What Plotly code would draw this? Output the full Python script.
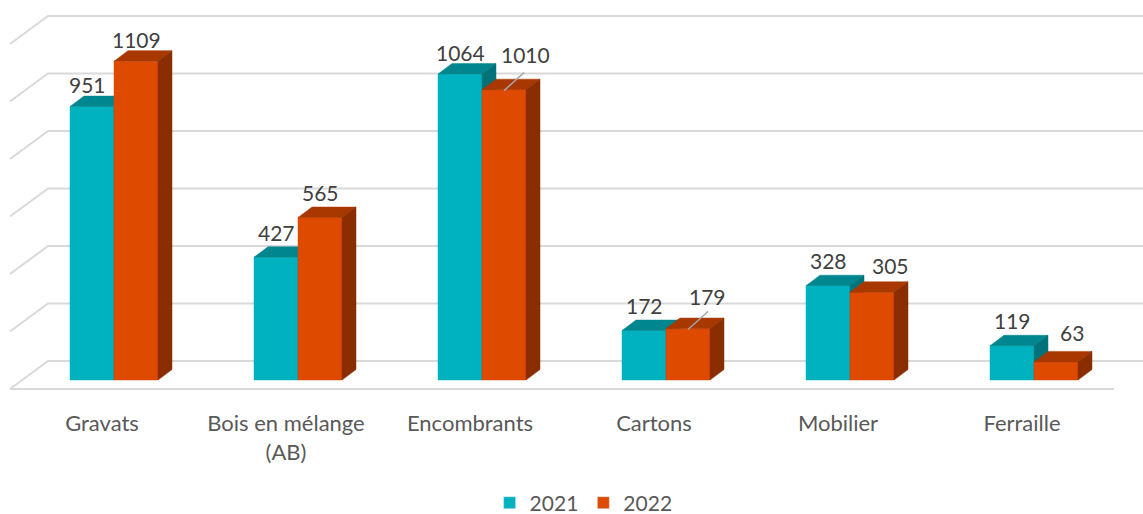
import plotly.graph_objects as go

# ---------------- data ----------------
categories = ["Gravats", "Bois en mélange<br>(AB)", "Encombrants", "Cartons", "Mobilier", "Ferraille"]
series_names = ["2021", "2022"]
values_2021 = [951, 427, 1064, 172, 328, 119]
values_2022 = [1109, 565, 1010, 179, 305, 63]
grid_values = [0, 200, 400, 600, 800, 1000, 1200]

# ---------------- styling / geometry ----------------
W, H = 1143, 514
MARGIN_B = 116
PX_CAT = 184.0        # pixels per category
PX_VAL = 0.2875       # pixels per value unit
X0_PX = 102.0         # pixel x of category 0 centre (front floor edge)
BASE_PX = 380.0       # pixel y of bar base (front)

def xu(px):
    return px / PX_CAT

def yu(px):
    return px / PX_VAL

bar_w = xu(44)
pair_shift = xu(12)
depth_x = xu(14)
depth_y = yu(10.5)

x_range = [-X0_PX / PX_CAT, (W - X0_PX) / PX_CAT]
plot_h = H - MARGIN_B
y_range = [-(plot_h - BASE_PX) / PX_VAL, BASE_PX / PX_VAL]

teal = {"front": "#00B2BF", "top": "#00868E", "side": "#00737A"}
orange = {"front": "#DD4A00", "top": "#A83800", "side": "#8A2D00"}
grid_color = "#D9D9D9"
text_color = "#595959"
label_color = "#404040"
FONT = "Lato"

# label nudges in pixels (dx, dy with +dy downwards)
nudge_2021 = [(-5, 3), (0, 0), (0, 3), (0, 0), (0, 0), (0, 0)]
nudge_2022 = [(0, 3), (0, 0), (21, -10), (19, -7), (18, -2), (16, -4)]
leader_2022 = [False, False, True, True, False, False]

fig = go.Figure()

# ---- gridlines (floor + back wall) ----
gx, gy = [], []
for v in grid_values:
    gx += [-0.5, -0.5 + xu(38), x_range[1] + 0.2, None]
    gy += [v - yu(9), v + yu(19), v + yu(19), None]
gx += [-0.5, 5.5, None]
gy += [-yu(9), -yu(9), None]
fig.add_trace(go.Scatter(x=gx, y=gy, mode="lines", line=dict(color=grid_color, width=2),
                         hoverinfo="skip", showlegend=False))


def faces(values, left_offset):
    fr_x, fr_y, tp_x, tp_y, sd_x, sd_y = [], [], [], [], [], []
    for i, v in enumerate(values):
        xl = i + pair_shift + left_offset
        xr = xl + bar_w
        fr_x += [xl, xr, xr, xl, xl, None]
        fr_y += [0, 0, v, v, 0, None]
        tp_x += [xl, xl + depth_x, xr + depth_x, xr, xl, None]
        tp_y += [v, v + depth_y, v + depth_y, v, v, None]
        sd_x += [xr, xr + depth_x, xr + depth_x, xr, xr, None]
        sd_y += [0, depth_y, v + depth_y, v, 0, None]
    return (fr_x, fr_y), (tp_x, tp_y), (sd_x, sd_y)


for vals, off, col in [(values_2021, -bar_w, teal), (values_2022, 0.0, orange)]:
    fr, tp, sd = faces(vals, off)
    for (fx, fy), key in [(fr, "front"), (tp, "top"), (sd, "side")]:
        fig.add_trace(go.Scatter(x=fx, y=fy, mode="lines", fill="toself",
                                 fillcolor=col[key], line=dict(color=col[key], width=0.5),
                                 hoverinfo="skip", showlegend=False))

# ---- legend entries ----
for name, col in zip(series_names, [teal, orange]):
    fig.add_trace(go.Bar(x=[None], y=[None], name=name, marker_color=col["front"]))

# ---- data labels ----
annotations = []
lx, ly = [], []
for vals, off, nudges, leaders in [(values_2021, -bar_w, nudge_2021, [False] * 6),
                                   (values_2022, 0.0, nudge_2022, leader_2022)]:
    for i, v in enumerate(vals):
        cx = i + pair_shift + off + bar_w / 2
        ndx, ndy = nudges[i]
        annotations.append(dict(x=cx + xu(ndx), y=v + yu(25) - yu(ndy), text=str(v),
                                showarrow=False, xanchor="center", yanchor="middle",
                                font=dict(family=FONT, size=21, color=label_color)))
        if leaders[i]:
            lx += [cx, cx + xu(20), None]
            ly += [v - yu(1), v + yu(17), None]

fig.add_trace(go.Scatter(x=lx, y=ly, mode="lines", line=dict(color="#A6A6A6", width=1.5),
                         hoverinfo="skip", showlegend=False))

fig.update_layout(
    width=W, height=H,
    margin=dict(l=0, r=0, t=0, b=MARGIN_B, autoexpand=False),
    paper_bgcolor="white", plot_bgcolor="white",
    barmode="overlay",
    showlegend=True,
    legend=dict(orientation="h", x=0.5106, xanchor="center", xref="container",
                y=(H - 503) / H, yanchor="middle", yref="container",
                bgcolor="rgba(0,0,0,0)",
                font=dict(family=FONT, size=21, color=text_color), itemwidth=30,
                traceorder="normal"),
    annotations=annotations,
    xaxis=dict(range=x_range, tickvals=list(range(len(categories))), ticktext=categories,
               showgrid=False, zeroline=False, showline=False, ticks="",
               automargin=False, ticklabelstandoff=10,
               tickfont=dict(family=FONT, size=22, color=text_color), fixedrange=True),
    yaxis=dict(range=y_range, visible=False, fixedrange=True, automargin=False),
    font=dict(family=FONT, color=text_color),
)

fig.write_html("out.html", config={"displayModeBar": False},
               post_script="document.body.style.margin='0px';document.body.style.overflow='hidden';")
